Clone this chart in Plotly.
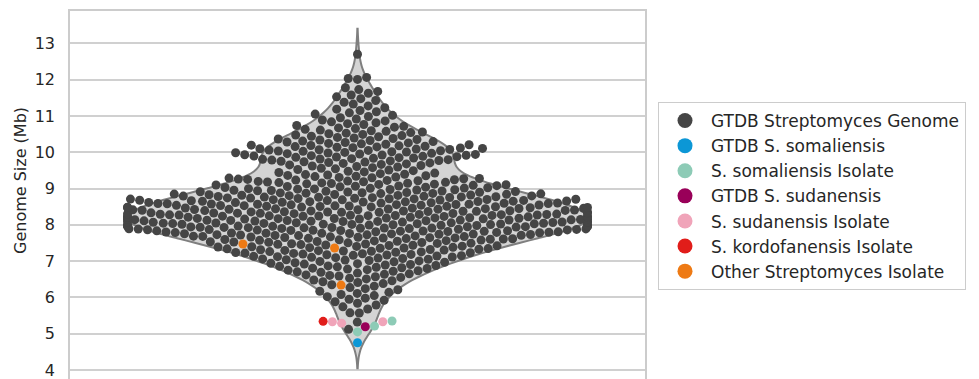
import numpy as np
import plotly.graph_objects as go

# ---------------- data ----------------
# GTDB Streptomyces genome sizes, in kb (estimated from the swarm, grouped by 0.1 Mb)
gtdb_genome_kb = [
    5120, 5320, 5570, 5575, 5680, 5740, 5790, 5840, 5880, 5920, 5950, 5980,
    6020, 6050, 6080, 6110, 6140, 6170, 6210, 6240, 6270, 6310, 6350, 6380,
    6410, 6430, 6460, 6480,
    6510, 6530, 6550, 6570, 6590,
    6605, 6620, 6635, 6650, 6670, 6690,
    6705, 6720, 6735, 6750, 6765, 6780, 6795,
    6805, 6817, 6830, 6842, 6855, 6867, 6880, 6892,
    6905, 6917, 6930, 6942, 6955, 6967, 6980, 6992,
    7005, 7016, 7027, 7038, 7050, 7061, 7072, 7083, 7094,
    7104, 7113, 7122, 7131, 7140, 7149, 7158, 7167, 7176, 7185, 7194,
    7204, 7212, 7220, 7229, 7237, 7245, 7254, 7262, 7270, 7279, 7287, 7295,
    7304, 7312, 7320, 7329, 7337, 7345, 7354, 7362, 7370, 7379, 7387, 7395,
    7404, 7412, 7420, 7429, 7437, 7445, 7454, 7462, 7470, 7479, 7487, 7495,
    7503, 7511, 7518, 7526, 7533, 7541, 7548, 7556, 7563, 7571, 7578, 7586, 7594,
    7603, 7609, 7615, 7621, 7627, 7633, 7639, 7645, 7651, 7657, 7663, 7669, 7675, 7681,
    7687, 7694,
    7702, 7707, 7712, 7718, 7723, 7728, 7733, 7739, 7744, 7749, 7754, 7760, 7765, 7770, 7775,
    7781, 7786, 7791, 7796,
    7801, 7806, 7810, 7815, 7819, 7824, 7828, 7833, 7837, 7842, 7846, 7851, 7855, 7860, 7864,
    7869, 7873, 7878, 7882, 7887, 7891, 7896,
    7901, 7905, 7909, 7913, 7917, 7921, 7925, 7929, 7933, 7937, 7941, 7945, 7949, 7953, 7957,
    7961, 7965, 7969, 7973, 7977, 7981, 7985, 7989, 7993,
    8002, 8006, 8010, 8014, 8018, 8022, 8026, 8030, 8034, 8038, 8042, 8046, 8050, 8054, 8058,
    8062, 8066, 8070, 8074, 8078, 8082, 8086, 8090, 8094,
    8101, 8105, 8109, 8113, 8117, 8121, 8125, 8129, 8133, 8137, 8141, 8145, 8149, 8153, 8157,
    8161, 8165, 8169, 8173, 8177, 8181, 8185, 8189, 8193,
    8203, 8207, 8211, 8215, 8219, 8223, 8227, 8231, 8235, 8239, 8243, 8247, 8251, 8255, 8259,
    8263, 8267, 8271, 8275, 8279, 8283, 8287, 8291, 8295,
    8302, 8307, 8311, 8316, 8320, 8325, 8329, 8334, 8338, 8343, 8347, 8352, 8356, 8361, 8365,
    8370, 8374, 8379, 8383, 8388, 8392, 8397,
    8402, 8407, 8412, 8416, 8421, 8426, 8431, 8436, 8440, 8445, 8450, 8455, 8459, 8464, 8469,
    8474, 8478, 8483, 8488, 8493, 8497,
    8503, 8508, 8512, 8517, 8522, 8527, 8531, 8536, 8541, 8546, 8550, 8555, 8560, 8565, 8569,
    8574, 8579, 8584, 8588, 8593, 8598,
    8602, 8607, 8612, 8617, 8622, 8627, 8632, 8637, 8642, 8647, 8652, 8657, 8662, 8667, 8672,
    8677, 8682, 8687, 8692, 8697,
    8703, 8708, 8714, 8719, 8725, 8730, 8736, 8741, 8747, 8752, 8758, 8763, 8769, 8774, 8780,
    8785, 8791, 8796,
    8803, 8809, 8815, 8821, 8828, 8834, 8840, 8846, 8853, 8859, 8865, 8871, 8878, 8884, 8890, 8896,
    8904, 8911, 8918, 8925, 8932, 8939, 8946, 8953, 8960, 8967, 8974, 8981, 8988, 8995,
    9004, 9012, 9020, 9029, 9037, 9045, 9054, 9062, 9070, 9079, 9087, 9095,
    9104, 9112, 9120, 9129, 9137, 9145, 9154, 9162, 9170, 9179, 9187, 9195,
    9205, 9214, 9223, 9232, 9241, 9250, 9259, 9268, 9277, 9286, 9295,
    9306, 9317, 9328, 9339, 9350, 9361, 9372, 9383, 9394,
    9408, 9425, 9441, 9458, 9475, 9491,
    9508, 9525, 9541, 9558, 9575, 9591,
    9607, 9621, 9635, 9650, 9664, 9678, 9692,
    9705, 9716, 9727, 9738, 9750, 9761, 9772, 9783, 9794,
    9804, 9813, 9822, 9831, 9840, 9850, 9859, 9868, 9877, 9886, 9895,
    9904, 9913, 9922, 9931, 9940, 9950, 9959, 9968, 9977, 9986, 9995,
    10005, 10014, 10023, 10032, 10041, 10050, 10059, 10068, 10077, 10086, 10095,
    10105, 10115, 10125, 10135, 10145, 10155, 10165, 10175, 10185, 10195,
    10206, 10218, 10231, 10243, 10256, 10268, 10281, 10293,
    10307, 10321, 10335, 10350, 10364, 10378, 10392,
    10408, 10425, 10441, 10458, 10475, 10491,
    10508, 10525, 10541, 10558, 10575, 10591,
    10610, 10630, 10650, 10670, 10690,
    10712, 10737, 10762, 10787,
    10812, 10837, 10862, 10887,
    10915, 10950, 10985,
    11015, 11050, 11085,
    11115, 11150, 11185,
    11225, 11275, 11325, 11375, 11425, 11475, 11525, 11575, 11625, 11675, 11725, 11775,
    12005, 12030, 12060,
    12700,
]

gtdb_somaliensis = [4.75]
somaliensis_isolates = [5.05, 5.21, 5.35]
gtdb_sudanensis = [5.19]
sudanensis_isolates = [5.29, 5.33, 5.33]
kordofanensis_isolates = [5.34]
other_isolates = [6.34, 7.36, 7.47]

category_names = ["GTDB Streptomyces Genome", "GTDB S. somaliensis", "S. somaliensis Isolate",
                  "GTDB S. sudanensis", "S. sudanensis Isolate", "S. kordofanensis Isolate",
                  "Other Streptomyces Isolate"]
category_colors = ["#454545", "#0C97D6", "#8DCBB6", "#990059", "#F0A4B9", "#E11D1A", "#EE7A14"]

y_ticks = [4, 5, 6, 7, 8, 9, 10, 11, 12, 13]

# ---------------- geometry ----------------
W, H = 979, 379
M_L, M_R, M_T, M_B = 70, 334, 11, 0
Y_MIN, Y_MAX = 3.752, 13.89
PLOT_W = W - M_L - M_R
PLOT_H = H - M_T - M_B
PX_X = PLOT_W / 1.0            # x axis range is [-0.5, 0.5]
PX_Y = PLOT_H / (Y_MAX - Y_MIN)
MARKER = 9
D = 9.3


def swarm_offsets(values):
    v = np.asarray(values, float)
    order = np.argsort(v, kind="stable")
    n = len(v)
    px = np.zeros(n)
    py = np.zeros(n)
    out = np.zeros(n)
    for k, idx in enumerate(order):
        y = v[idx] * PX_Y
        x = 0.0
        if k > 0:
            dy = y - py[:k]
            m = np.abs(dy) < D
            if m.any():
                nx = px[:k][m]
                ndy = dy[m]
                dx = np.sqrt(D * D - ndy * ndy)
                cand = np.concatenate([[0.0], np.column_stack([nx - dx, nx + dx]).ravel()])
                cand = cand[np.argsort(np.abs(cand), kind="stable")]
                d2 = (cand[:, None] - nx[None, :]) ** 2 + ndy[None, :] ** 2
                ok = np.all(d2 >= D * D - 1e-6, axis=1)
                if ok.any():
                    x = cand[np.argmax(ok)]
                else:
                    x = np.max(np.abs(nx)) + D
        px[k] = x
        py[k] = y
        out[idx] = x
    half = 0.4 * PX_X
    out = np.clip(out, -half, half)
    return out / PX_X


gtdb_values = np.asarray(gtdb_genome_kb, float) / 1000.0
groups = [gtdb_values, gtdb_somaliensis, somaliensis_isolates, gtdb_sudanensis,
          sudanensis_isolates, kordofanensis_isolates, other_isolates]

all_vals = np.concatenate([np.asarray(g, float) for g in groups])
labels = np.concatenate([[i] * len(g) for i, g in enumerate(groups)])
offsets = swarm_offsets(all_vals)

fig = go.Figure()
fig.add_trace(go.Violin(
    y=all_vals, x0=0, width=0.8, scalemode="width", spanmode="soft", bandwidth=0.35,
    points=False, fillcolor="#d4d4d4", line=dict(color="#7f7f7f", width=2),
    box_visible=False, meanline_visible=False, showlegend=False, hoverinfo="skip", opacity=1,
))

for i, name in enumerate(category_names):
    m = labels == i
    fig.add_trace(go.Scatter(
        x=offsets[m], y=all_vals[m], mode="markers",
        marker=dict(size=MARKER, color=category_colors[i], line=dict(width=0)),
        showlegend=False, name=name,
    ))

for i, name in enumerate(category_names):
    fig.add_trace(go.Scatter(
        x=[None], y=[None], mode="markers", name=name,
        marker=dict(size=15, color=category_colors[i]), showlegend=True,
    ))

fig.update_layout(
    width=W, height=H,
    margin=dict(l=M_L, r=M_R, t=M_T, b=M_B),
    paper_bgcolor="white", plot_bgcolor="white",
    font=dict(family="DejaVu Sans", size=16, color="#262626"),
    xaxis=dict(type="linear", range=[-0.5, 0.5], showgrid=False, zeroline=False, side="top",
               showticklabels=False, showline=True, mirror=False, linecolor="#cccccc", linewidth=1.5),
    yaxis=dict(range=[Y_MIN, Y_MAX], tickvals=y_ticks, showgrid=True, gridcolor="#d0d0d0",
               gridwidth=1.5, zeroline=False, showline=True, mirror=True, linecolor="#cccccc",
               linewidth=1.5, ticks="", ticklabelstandoff=10, ticklabeloverflow="allow",
               tickfont=dict(size=16, color="#262626")),
    legend=dict(x=(658 - M_L) / PLOT_W, y=(H - M_B - 102) / PLOT_H, xanchor="left", yanchor="top",
                bordercolor="#cccccc", borderwidth=1, bgcolor="white", itemwidth=42,
                font=dict(size=17, color="#262626")),
    annotations=[dict(text="Genome Size (Mb)", textangle=-90, xref="paper", yref="paper",
                      x=(20 - M_L) / PLOT_W, y=(H - M_B - 181) / PLOT_H, xanchor="center",
                      yanchor="middle", showarrow=False, font=dict(size=16, color="#262626"))],
)

fig.write_html("out.html")
